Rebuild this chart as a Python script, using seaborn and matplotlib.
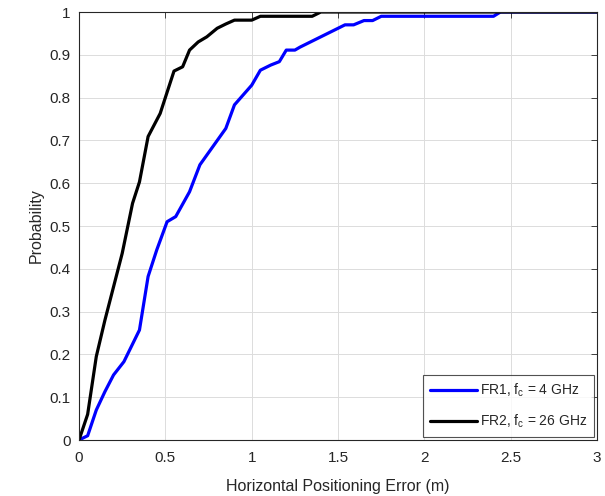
import numpy as np
import pandas as pd
import matplotlib
matplotlib.use("Agg")
import matplotlib.pyplot as plt
import seaborn as sns

# CDF of horizontal positioning error
fr1_err = [0.0, 0.05, 0.10, 0.15, 0.20, 0.26, 0.35, 0.40, 0.45, 0.51, 0.56, 0.64, 0.70,
           0.85, 0.90, 0.95, 1.00, 1.05, 1.11, 1.16, 1.20, 1.25, 1.28, 1.40, 1.54,
           1.59, 1.65, 1.70, 1.75, 2.40, 2.44, 3.0]
fr1_prob = [0.0, 0.01, 0.07, 0.113, 0.152, 0.183, 0.257, 0.382, 0.444, 0.51, 0.522, 0.58, 0.643,
            0.728, 0.783, 0.806, 0.829, 0.864, 0.876, 0.884, 0.911, 0.911, 0.918, 0.942, 0.97,
            0.97, 0.98, 0.98, 0.99, 0.99, 1.0, 1.0]

fr2_err = [0.0, 0.05, 0.10, 0.15, 0.20, 0.25, 0.29, 0.31, 0.35, 0.40, 0.47, 0.55, 0.60,
           0.64, 0.69, 0.74, 0.80, 0.85, 0.90, 1.00, 1.05, 1.35, 1.40, 3.0]
fr2_prob = [0.0, 0.06, 0.195, 0.28, 0.358, 0.436, 0.514, 0.553, 0.603, 0.709, 0.763, 0.862, 0.872,
            0.911, 0.93, 0.942, 0.962, 0.972, 0.981, 0.981, 0.99, 0.99, 1.0, 1.0]

labels = [r"FR1, f$_\mathregular{c}$ = 4 GHz", r"FR2, f$_\mathregular{c}$ = 26 GHz"]
colors = ["#0000ff", "#000000"]

df = pd.concat([
    pd.DataFrame({"err": fr1_err, "prob": fr1_prob, "case": labels[0]}),
    pd.DataFrame({"err": fr2_err, "prob": fr2_prob, "case": labels[1]}),
], ignore_index=True)

sns.set_style("white")
plt.rcParams["font.family"] = ["Liberation Sans", "DejaVu Sans"]
plt.rcParams["mathtext.fontset"] = "custom"
plt.rcParams["mathtext.rm"] = "Liberation Sans"
plt.rcParams["mathtext.it"] = "Liberation Sans"

fig = plt.figure(figsize=(6.05, 4.96), dpi=100)
ax = fig.add_axes([0.1306, 0.1129, 0.8564, 0.8629])

sns.lineplot(data=df, x="err", y="prob", hue="case", palette=dict(zip(labels, colors)),
             sort=False, estimator=None, linewidth=2.3, ax=ax)

ax.set_xlim(0, 3)
ax.set_ylim(0, 1)
ax.set_xticks(np.arange(0, 3.01, 0.5))
ax.set_xticklabels(["0", "0.5", "1", "1.5", "2", "2.5", "3"])
ax.set_yticks(np.arange(0, 1.01, 0.1))
ax.set_yticklabels(["0", "0.1", "0.2", "0.3", "0.4", "0.5", "0.6", "0.7", "0.8", "0.9", "1"])
ax.grid(True, color="#dcdcdc", linewidth=0.7)
ax.tick_params(direction="in", length=4, color="#262626", labelcolor="#262626",
               labelsize=11, top=True, right=True, width=0.6)
ax.tick_params(axis="x", pad=8)
ax.tick_params(axis="y", pad=6)
for s in ax.spines.values():
    s.set_color("#262626")
    s.set_linewidth(0.8)

ax.set_xlabel("Horizontal Positioning Error (m)", fontsize=11.5, color="#262626", labelpad=10)
ax.set_ylabel("Probability", fontsize=11.5, color="#262626", labelpad=4)

leg = ax.legend(loc="lower right", fontsize=10, frameon=True, fancybox=False,
                handlelength=3.4, borderaxespad=0.2, handletextpad=0.2,
                labelspacing=1.0, borderpad=0.5)
leg.get_frame().set_edgecolor("#262626")
leg.get_frame().set_linewidth(0.8)

fig.savefig("out.png", dpi=100)
